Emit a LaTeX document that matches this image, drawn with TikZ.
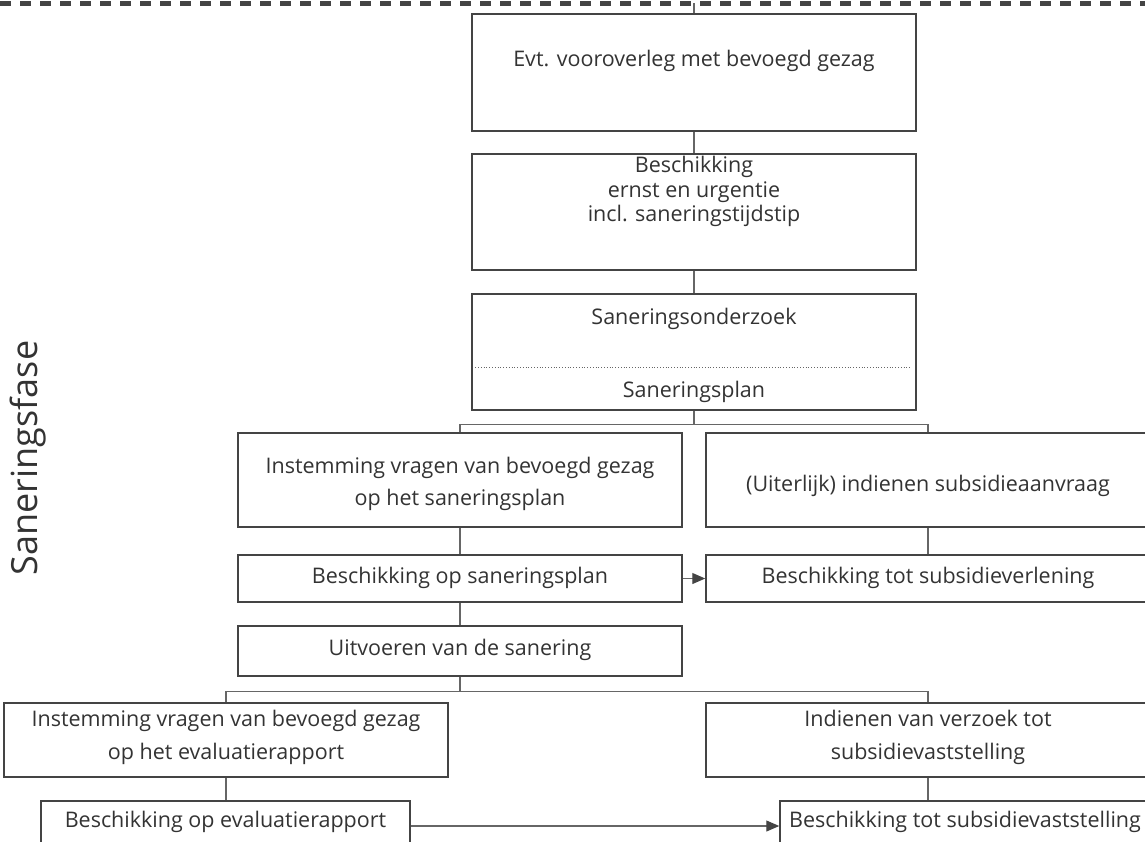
\documentclass[tikz,border=0pt]{standalone}
\usepackage{fontspec}
\setmainfont{Open Sans}
\usetikzlibrary{arrows.meta,calc}
\definecolor{ln}{HTML}{444444}
\definecolor{cn}{HTML}{666666}
\definecolor{tx}{HTML}{333333}
\begin{document}
\begin{tikzpicture}[x=1pt,y=-1pt,
 box/.style={draw=ln,line width=1.5pt,minimum width=444pt,inner sep=0pt},
 txt/.style={text=tx,font=\fontsize{21.5}{24}\selectfont,align=center,inner sep=0pt},
 conn/.style={draw=cn,line width=1.1pt},
 arr/.style={conn,-{Triangle[length=13pt,width=11pt,color=ln]}}]
\useasboundingbox (0,0) rectangle (1145,841);
\clip (0,0) rectangle (1145,841);
\draw[line width=5pt, dash pattern=on 11pt off 9pt, color=ln] (0,3) -- (1145,3);
\coordinate (top) at (694,3);
% boxes
\node[box,minimum height=117pt] (b1) at (694,72.5) {};
\node[box,minimum height=116pt] (b2) at (694,212) {};
\node[box,minimum height=116pt] (b3) at (694,352) {};
\node[box,minimum height=94pt] (b4) at (460,480) {};
\node[box,minimum height=94pt] (b5) at (928,480) {};
\node[box,minimum height=47pt] (b6) at (460,578.5) {};
\node[box,minimum height=47pt] (b7) at (928,578.5) {};
\node[box,minimum height=50pt] (b8) at (460,651) {};
\node[box,minimum height=74pt] (b9) at (226,740) {};
\node[box,minimum height=74pt] (b10) at (928,740) {};
\node[box,minimum width=369pt,minimum height=80pt] (b11) at (225.5,841) {};
\node[box,minimum width=370pt,minimum height=80pt] (b12) at (965,841) {};
% texts
\node[txt] (t1) at (694,61) {Evt. vooroverleg met bevoegd gezag};
\node[txt] (t2) at (694,191.5) {Beschikking\\[0.5pt]ernst en urgentie\\[0.5pt]incl. saneringstijdstip};
\node[txt] (t3a) at (694,319) {Saneringsonderzoek};
\node[txt] (t3b) at (694,392) {Saneringsplan};
\draw[cn,line width=0.8pt,dotted] ($(b3.west)+(4,15)$) -- ($(b3.east)+(-5,15)$);
\node[txt] (t4) at (460,484) {Instemming vragen van bevoegd gezag\\[8pt]op het saneringsplan};
\node[txt] (t5) at (928,486) {(Uiterlijk) indienen subsidieaanvraag};
\node[txt] (t6) at (460,578) {Beschikking op saneringsplan};
\node[txt] (t7) at (928,578) {Beschikking tot subsidieverlening};
\node[txt] (t8) at (460,650) {Uitvoeren van de sanering};
\node[txt] (t9) at (226,737.5) {Instemming vragen van bevoegd gezag\\[9pt]op het evaluatierapport};
\node[txt] (t10) at (928,737.5) {Indienen van verzoek tot\\[9pt]subsidievaststelling};
\node[txt] (t11) at (225.5,822) {Beschikking op evaluatierapport};
\node[txt] (t12) at (965,822) {Beschikking tot subsidievaststelling};
\node[rotate=90,text=tx,font=\fontsize{36}{36}\selectfont,inner sep=0pt] (lab) at (28,458) {Saneringsfase};
% connectors
\draw[conn] (top) -- (b1.north);
\draw[conn] (b1.south) -- (b2.north);
\draw[conn] (b2.south) -- (b3.north);
\draw[conn] (b3.south) -- ++(0,14) coordinate (j1);
\draw[conn] (b4.north) |- (j1) -| (b5.north);
\draw[conn] (b4.south) -- (b6.north);
\draw[conn] (b5.south) -- (b7.north);
\draw[arr] (b6.east) -- (b7.west);
\draw[conn] (b6.south) -- (b8.north);
\draw[conn] (b8.south) -- ++(0,15) coordinate (j2);
\draw[conn] (b9.north) |- (j2) -| (b10.north);
\draw[conn] (b9.south) -- (b9.south |- b11.north);
\draw[conn] (b10.south) -- (b10.south |- b12.north);
\draw[arr] ($(b11.east)+(0,-15)$) -- ($(b12.west)+(0,-15)$);
\end{tikzpicture}
\end{document}
